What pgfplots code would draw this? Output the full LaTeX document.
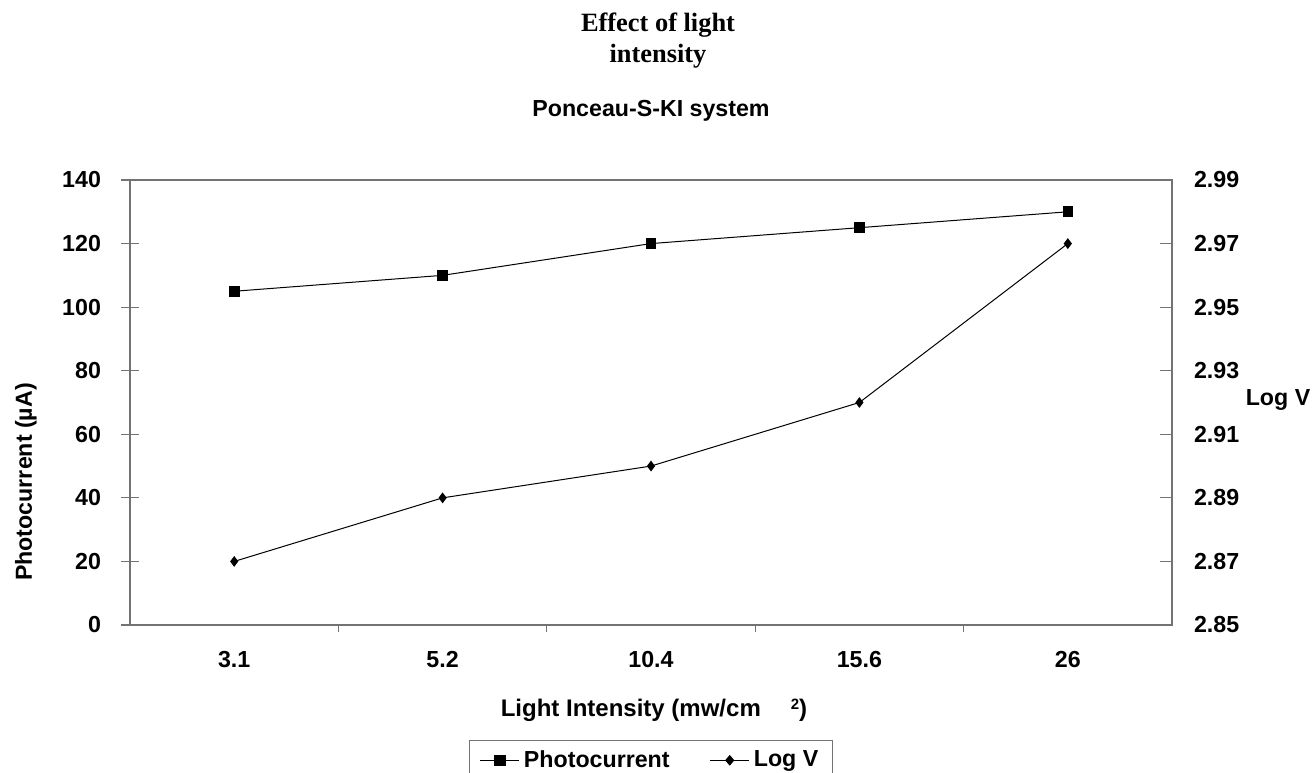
\documentclass[border=0pt]{standalone}
\usepackage{pgfplots}
\pgfplotsset{compat=1.18}
\usepackage{fontspec}
\setmainfont{Liberation Sans}
\newfontfamily\titleserif{Liberation Serif}

\definecolor{frame}{gray}{0.45}
\newcommand{\lbl}{\fontsize{11.6}{13.5}\selectfont\bfseries}

\begin{document}
\begin{tikzpicture}
\useasboundingbox (0,0) rectangle (658pt,386pt);

% left axis: photocurrent
\begin{axis}[
  at={(65pt,73.5pt)}, anchor=south west,
  scale only axis, width=521pt, height=222.5pt,
  xmin=-0.5, xmax=4.5, ymin=0, ymax=140,
  xtick={0,1,2,3,4},
  xticklabels={3.1,5.2,10.4,15.6,26},
  minor xtick={0.5,1.5,2.5,3.5},
  major x tick style={draw=none},
  xtick align=outside, minor tick length=3.5pt,
  ytick={0,20,...,140}, ytick pos=left, xtick pos=bottom,
  ytick align=center, major tick length=9pt,
  axis line style={frame, line width=0.6pt},
  tick style={frame, line width=0.6pt},
  tick label style={font=\lbl},
  xticklabel style={yshift=-0.5pt},
  yticklabel style={xshift=-6.5pt},
  /pgf/number format/assume math mode=true,
  legend style={at={(axis description cs:0.5,-0.2584)}, anchor=north,
    draw=frame, font=\lbl,
    legend columns=2, /tikz/every even column/.append style={column sep=18pt},
    inner ysep=3pt, inner xsep=5pt},
  legend image post style={xscale=1.15},
  legend cell align=left,
  clip=false,
]
\addplot[black, line width=0.5pt, mark=square*, mark size=2.4pt]
  coordinates {(0,105) (1,110) (2,120) (3,125) (4,130)};
\addlegendentry{Photocurrent}
\addlegendimage{black, line width=0.5pt, mark=diamond*, mark size=2.3pt}
\addlegendentry{Log V}
\end{axis}

% right axis: Log V
\begin{axis}[
  at={(65pt,73.5pt)}, anchor=south west,
  scale only axis, width=521pt, height=222.5pt,
  xmin=-0.5, xmax=4.5, ymin=2.85, ymax=2.99,
  axis x line=none, axis y line*=right,
  ytick={2.85,2.87,2.89,2.91,2.93,2.95,2.97,2.99},
  ytick align=inside, major tick length=6pt,
  axis line style={frame, line width=0.6pt},
  tick style={frame, line width=0.6pt},
  tick label style={font=\lbl},
  yticklabel style={xshift=7.5pt, /pgf/number format/.cd, fixed, fixed zerofill, precision=2},
  /pgf/number format/assume math mode=true,
]
\addplot[black, line width=0.5pt, mark=diamond*, mark size=2.3pt]
  coordinates {(0,2.87) (1,2.89) (2,2.90) (3,2.92) (4,2.97)};
\end{axis}

\node[anchor=base, font=\titleserif\fontsize{13.2}{15}\selectfont\bfseries]
  at (329pt,370pt) {Effect of light};
\node[anchor=base, font=\titleserif\fontsize{13.2}{15}\selectfont\bfseries]
  at (329pt,354.5pt) {intensity};
\node[anchor=base, font=\lbl] at (325.5pt,327.7pt) {Ponceau-S-KI system};
\node[font=\lbl] at (639pt,186pt) {Log V};
\node[rotate=90, font=\lbl] at (13pt,145pt) {Photocurrent (µA)};
\node[font=\fontsize{12}{14}\selectfont\bfseries] at (327pt,31pt)
  {Light Intensity (mw/cm\hspace{15pt}\raisebox{0.55ex}{\fontsize{7.5}{8}\selectfont 2})};
\end{tikzpicture}
\end{document}
